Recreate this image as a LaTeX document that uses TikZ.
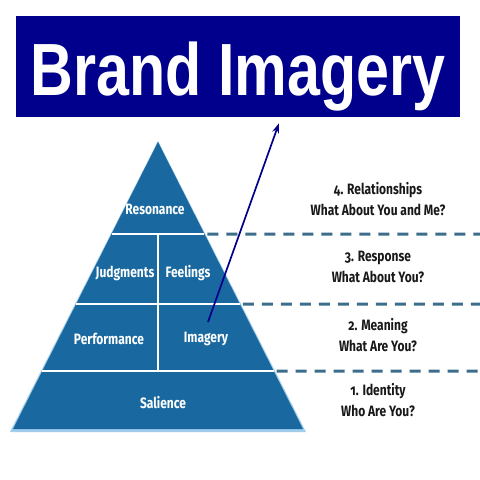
\documentclass[tikz,border=0pt]{standalone}
\usepackage{fontspec}
\usepackage{graphicx}
\setmainfont{Fira Sans}[Numbers=OldStyle]
\newfontfamily\titlefont{Liberation Sans}
\usetikzlibrary{arrows.meta,calc}
\definecolor{navy}{RGB}{0,0,140}
\definecolor{pyr}{RGB}{25,105,160}
\definecolor{pyrlight}{RGB}{160,205,235}
\definecolor{dashc}{RGB}{60,110,140}
\definecolor{txt}{RGB}{25,25,25}
\newcommand{\cnd}[1]{\scalebox{0.8}[1]{#1}}
\tikzset{
  titlebox/.style={fill=navy, minimum width=444pt, minimum height=101pt, inner sep=0pt,
    text=white, text height=57pt, text depth=0pt, font=\titlefont\bfseries\fontsize{74}{74}\selectfont},
  divline/.style={draw=white, line width=2.5pt},
  dashline/.style={draw=dashc, line width=3pt, dash pattern=on 11pt off 8pt},
  ptext/.style={text=white, inner sep=1pt, font=\bfseries\fontsize{15}{15}\selectfont},
  rtext/.style={text=txt, align=center, inner sep=0pt, font=\bfseries\fontsize{15}{21}\selectfont},
  imgarrow/.style={draw=navy, line width=1.7pt, -{Stealth[length=10pt,width=7pt]}}
}
\begin{document}
\begin{tikzpicture}[x=1pt,y=-1pt]
\useasboundingbox (0,0) rectangle (480,480);
\fill[white] (0,0) rectangle (480,480);

% title
\node[titlebox] (title) at (238,66.5) {\scalebox{0.8}[1]{Brand Imagery}};

% pyramid
\coordinate (apex) at (158,142);
\coordinate (bl) at (13,429);
\coordinate (br) at (303,429);
\fill[pyrlight] ($(apex)+(0,-1)$) -- ($(bl)+(-3,3)$) -- ($(br)+(3,3)$) -- cycle;
\fill[pyr] (apex) -- (bl) -- (br) -- cycle;

\coordinate (l1) at ($(apex)!0.3206!(bl)$);
\coordinate (r1) at ($(apex)!0.3206!(br)$);
\coordinate (l2) at ($(apex)!0.5645!(bl)$);
\coordinate (r2) at ($(apex)!0.5645!(br)$);
\coordinate (l3) at ($(apex)!0.7979!(bl)$);
\coordinate (r3) at ($(apex)!0.7979!(br)$);
\draw[divline] (l1) -- (r1);
\draw[divline] (l2) -- (r2);
\draw[divline] (l3) -- (r3);
\draw[divline] (l1 -| apex) -- (l3 -| apex);

% dashed separators
\coordinate (e1) at (480,234);
\coordinate (e2) at (480,304);
\coordinate (e3) at (480,371);
\draw[dashline] ($(r1)+(3,0)$) -- (e1);
\draw[dashline] ($(r2)+(3,0)$) -- (e2);
\draw[dashline] ($(r3)+(3,0)$) -- (e3);

% pyramid labels
\node[ptext] (res) at (155,209) {\cnd{Resonance}};
\node[ptext] (jud) at (125,273) {\cnd{Judgments}};
\node[ptext] (fee) at (188,273) {\cnd{Feelings}};
\node[ptext] (per) at (109,339) {\cnd{Performance}};
\node[ptext] (img) at (206,339) {\cnd{Imagery}};
\node[ptext] (sal) at (163,403) {\cnd{Salience}};

% right labels
\node[rtext] (q4) at (378,199) {\cnd{4. Relationships}\\\cnd{What About You and Me?}};
\node[rtext] (q3) at (378,267) {\cnd{3. Response}\\\cnd{What About You?}};
\node[rtext] (q2) at (378,335) {\cnd{2. Meaning}\\\cnd{What Are You?}};
\node[rtext] (q1) at (378,400) {\cnd{1. Identity}\\\cnd{Who Are You?}};

% arrow
\draw[imgarrow] ($(img.center)+(2,-17)$) -- ($(title.south)+(41,6)$);
\end{tikzpicture}
\end{document}
